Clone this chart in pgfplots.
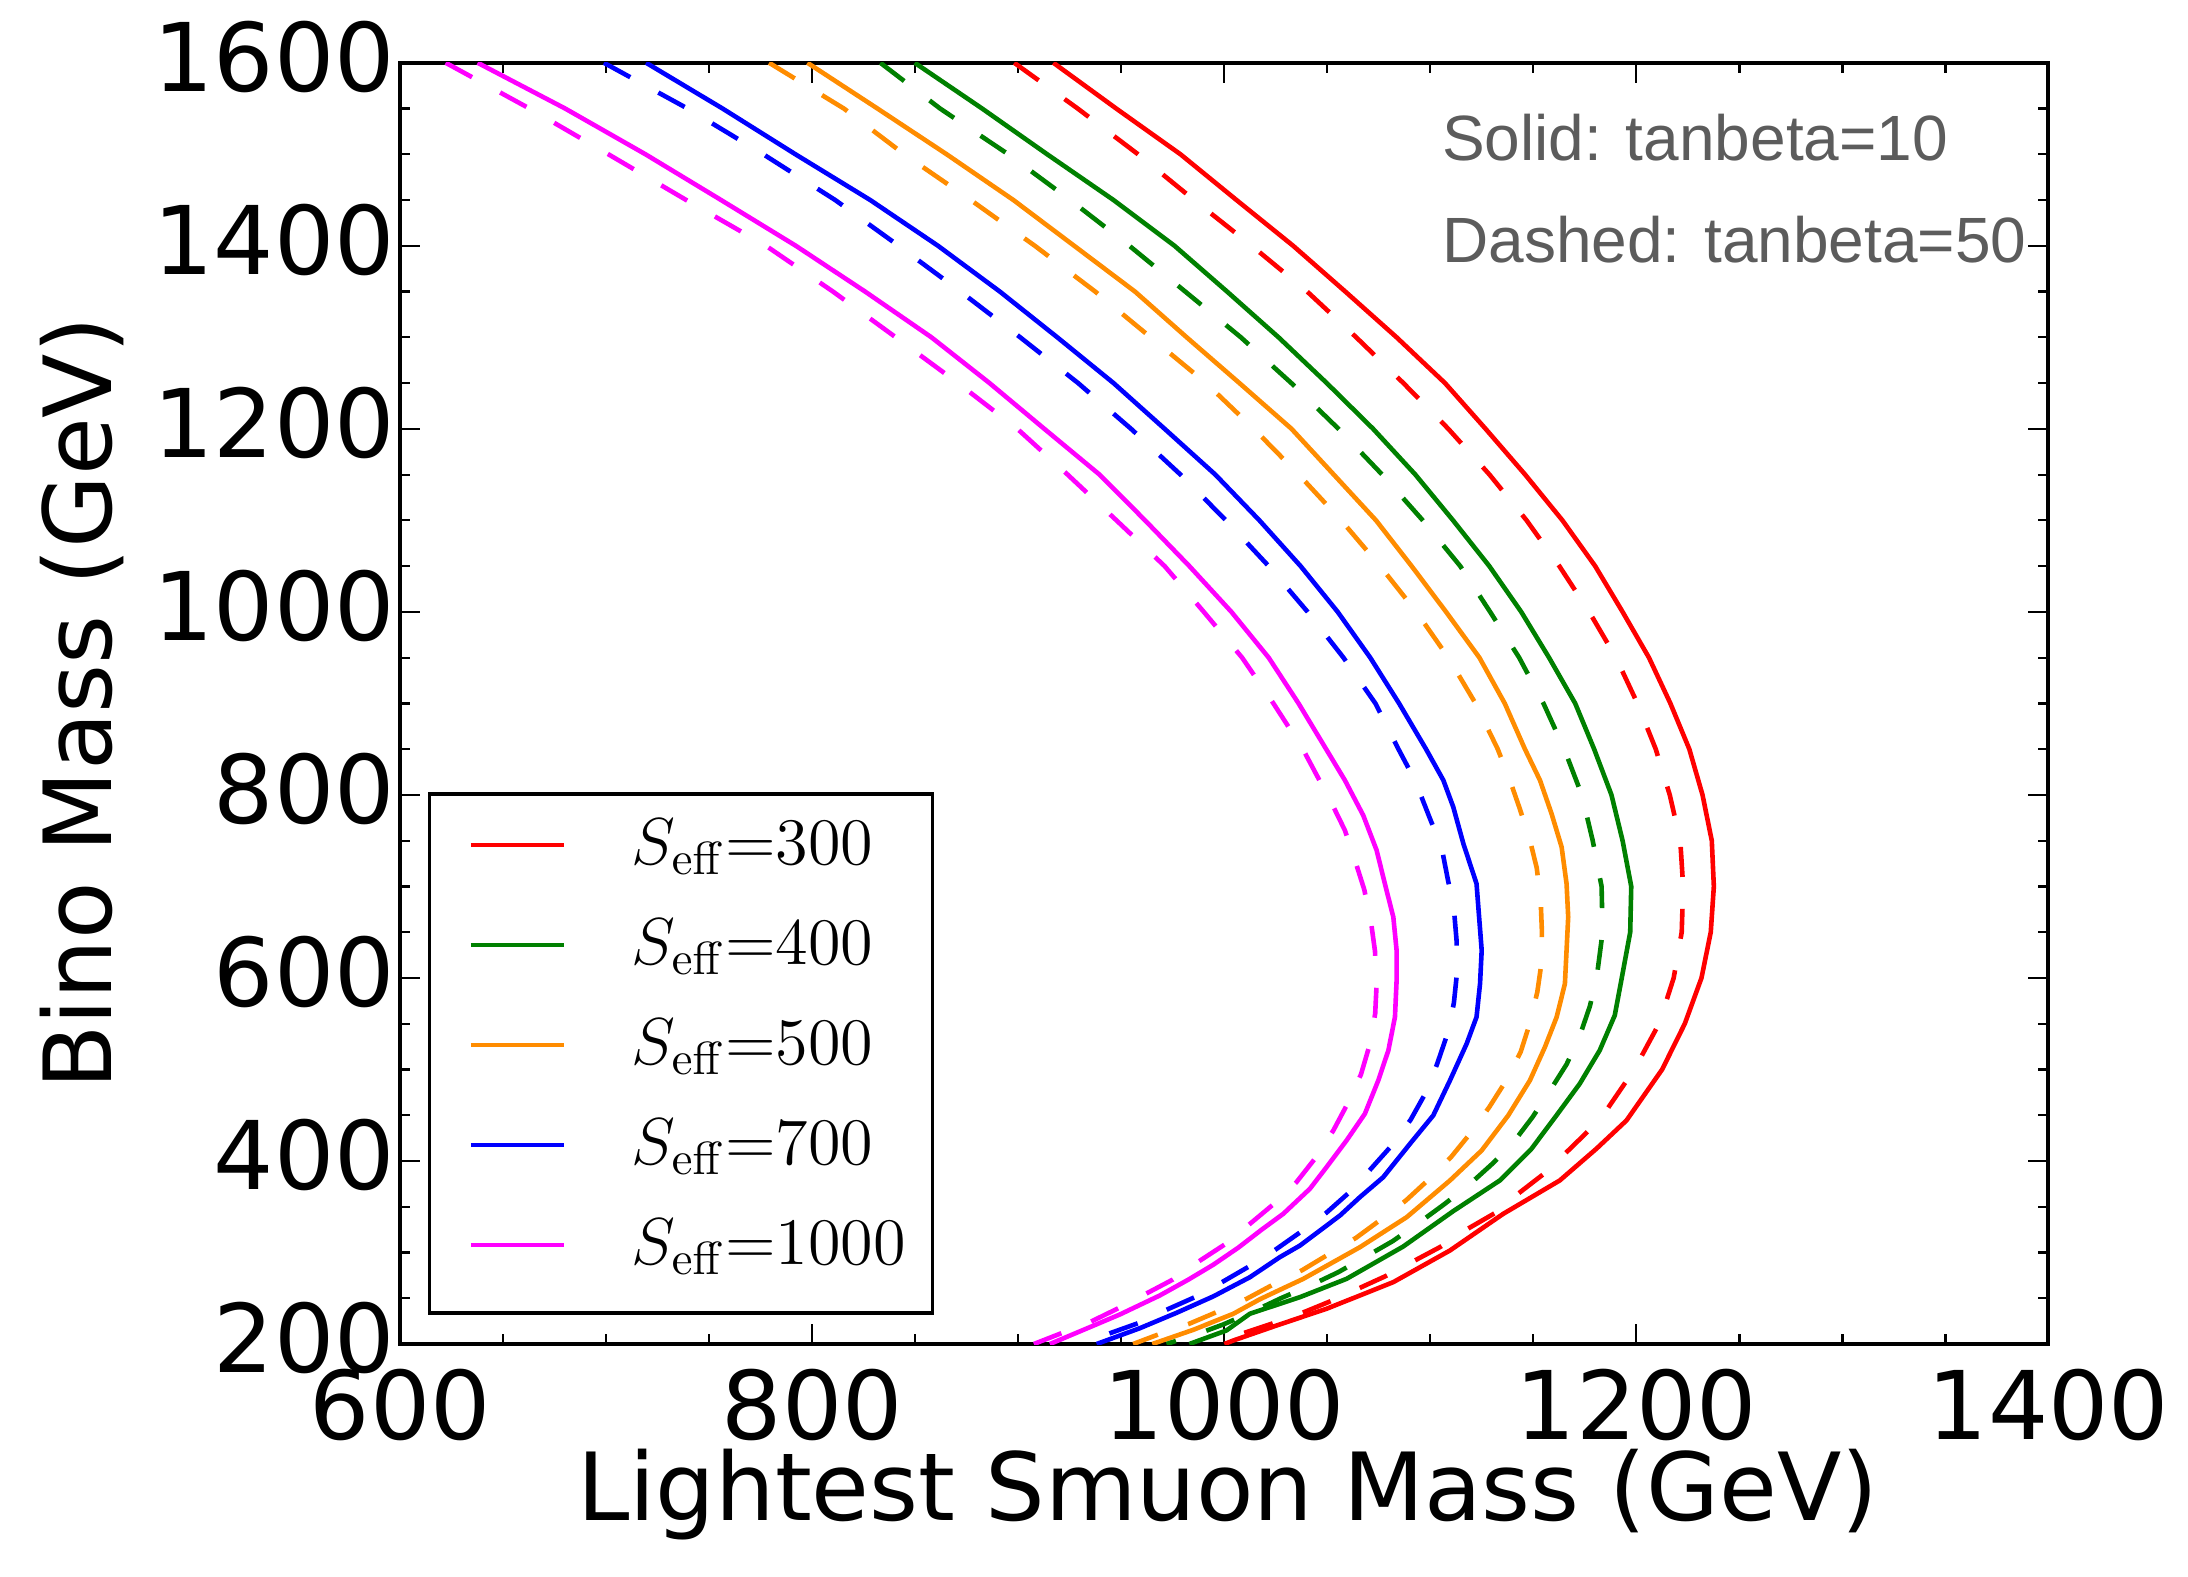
\RequirePackage{fix-cm}
\documentclass[border=0pt]{standalone}
\usepackage[no-math]{fontspec}
\setmainfont{DejaVu Sans}
\newfontfamily\annfont{Liberation Sans}
\usepackage{pgfplots}
\pgfplotsset{compat=1.18}
\definecolor{mplgreen}{RGB}{0,128,0}
\definecolor{mplorange}{RGB}{255,140,0}
\definecolor{mplred}{RGB}{255,0,0}
\definecolor{mplblue}{RGB}{0,0,255}
\definecolor{mplmag}{RGB}{255,0,255}
\definecolor{anngray}{RGB}{92,92,92}
\begin{document}
\begin{tikzpicture}
\begin{axis}[
  width=412pt, height=320.3pt, scale only axis,
  xmin=600, xmax=1400, ymin=200, ymax=1600,
  xtick={600,800,1000,1200,1400},
  ytick={200,400,600,800,1000,1200,1400,1600},
  minor x tick num=3, minor y tick num=3,
  tick align=inside,
  xtick pos=both, ytick pos=both,
  xticklabel pos=lower, yticklabel pos=left,
  major tick length=5pt, minor tick length=2.5pt,
  every tick/.append style={black, line width=0.55pt},
  axis line style={line width=1pt},
  /pgf/number format/assume math mode=true,
  /pgf/number format/set thousands separator={},
  scaled ticks=false,
  tick label style={font=\fontsize{23.7}{28}\selectfont},
  xticklabel style={inner xsep=0pt, inner ysep=0pt, yshift=-6pt},
  yticklabel style={inner xsep=1.2pt, inner ysep=0pt, yshift=1.5pt},
  label style={font=\fontsize{23.5}{28}\selectfont},
  xlabel={Lightest Smuon Mass (GeV)},
  ylabel={Bino Mass (GeV)},
  xlabel style={at={(axis description cs:0.502,-0.1175)}, anchor=center, inner sep=0pt},
  ylabel style={at={(axis description cs:-0.193,0.5)}, anchor=center, inner sep=0pt},
  legend style={at={(rel axis cs:0.0165,0.0228)}, anchor=south west,
    draw=black, line width=0.9pt, fill=white,
    inner xsep=6.6pt, inner ysep=5pt, row sep=5.25pt, column sep=16.5pt,
    cells={anchor=base west},
    nodes={inner sep=0pt, text height=12.55pt, text depth=7.2pt},
    font=\fontsize{16.6}{20}\selectfont},
  legend image code/.code={\path (-3.2pt,4.8pt); \draw[#1, line width=1.15pt] (0pt,4.8pt) -- (23.2pt,4.8pt);},
  every axis plot/.append style={line width=1.15pt, line join=round},
]
% ---- solid curves (tanbeta=10) ----
\addplot[mplred] coordinates {
(917,1600) (947.5,1550) (978.7,1500) (1005.9,1450) (1033.4,1400) (1058.7,1350) (1083.6,1300) (1107.1,1250) (1126.8,1200) (1146,1150) (1164.1,1100) (1180,1050) (1193.3,1000) (1206.1,950) (1216.5,900) (1225.7,850) (1232.1,800) (1236.6,750) (1237.6,700) (1236.1,650) (1231.6,600) (1223.5,550) (1212.5,500) (1195.2,444.3) (1180.6,413.4) (1162.8,378.7) (1135.4,342.3) (1109.5,302.2) (1082,267.6) (1049.6,238.5) (1025.3,220.2) (1004.3,203.8) (1000,200)};
\addlegendentry{$S_{\mathrm{eff}}{=}300$}
\addplot[mplgreen] coordinates {
(849.7,1600) (882.4,1550) (914,1500) (946.2,1450) (975.8,1400) (1001.3,1350) (1026.3,1300) (1049.7,1250) (1072.2,1200) (1092.7,1150) (1111,1100) (1128.6,1050) (1144.1,1000) (1157.6,950) (1170.3,900) (1179.5,850) (1187.9,800) (1193.3,750) (1197.5,700) (1197,650) (1192.9,600) (1189.5,559.1) (1182.2,520.9) (1172.5,484.4) (1161.2,449.8) (1149.1,413.4) (1133.7,378.7) (1111.1,345.2) (1086.8,306.5) (1059.3,271.2) (1036.7,251.2) (1012.4,233.1) (1001,214.8) (983,200)};
\addlegendentry{$S_{\mathrm{eff}}{=}400$}
\addplot[mplorange] coordinates {
(797.6,1600) (831.6,1550) (865.2,1500) (897.6,1450) (927.1,1400) (956.6,1350) (981.7,1300) (1007.3,1250) (1032.6,1200) (1053.1,1150) (1073.6,1100) (1090.9,1050) (1107.6,1000) (1123.8,950) (1136.1,900) (1145.9,850) (1153.2,816) (1158.8,779.6) (1163.7,743.1) (1166.1,703) (1166.9,666.6) (1165.3,593.7) (1161.3,557.3) (1155.6,524.5) (1148.3,488) (1137.8,449.8) (1124.9,411.5) (1109.5,378.7) (1088.5,338.6) (1065.8,305.8) (1038.3,271.2) (1017.3,249) (1004.3,233) (984.9,215.5) (965,200)};
\addlegendentry{$S_{\mathrm{eff}}{=}500$}
\addplot[mplblue] coordinates {
(719.3,1600) (756.4,1550) (791.8,1500) (828.1,1450) (861,1400) (891,1350) (918.9,1300) (946.2,1250) (971,1200) (995.6,1150) (1017,1100) (1037,1050) (1055,1000) (1070.8,950) (1084.8,900) (1097.9,850) (1106.3,816) (1111.1,786.8) (1116,746.8) (1122.4,703) (1124.9,630.1) (1124.1,593.7) (1122.4,557.3) (1117.6,528.1) (1109.5,488) (1101.4,449.8) (1090.1,418.8) (1077.1,382.3) (1065.8,360.5) (1056.1,340.4) (1036.7,307.6) (1026.9,294.9) (1012.4,273) (994.6,252) (976.8,234.1) (959,217.3) (938,200)};
\addlegendentry{$S_{\mathrm{eff}}{=}700$}
\addplot[mplmag] coordinates {
(637.5,1600) (680,1550) (719,1500) (755.7,1450) (792,1400) (825.6,1350) (857.8,1300) (886,1250) (912.6,1200) (939.4,1150) (961.5,1100) (983,1050) (1003.4,1000) (1021.5,950) (1036,900) (1049.4,850) (1058.5,816) (1067.4,777.7) (1073.9,739.5) (1077.9,703) (1082,666.6) (1083.6,630.1) (1083.6,597.3) (1082.8,557.3) (1079.6,520.8) (1074.7,488) (1068.2,451.6) (1059.3,422.4) (1049.6,393.3) (1041.5,369.6) (1028.6,342.3) (1018,324.8) (1006.7,305.2) (994.6,286.6) (982.4,270.2) (968.7,253.1) (949.3,232.3) (934.7,218.4) (915.3,200)};
\addlegendentry{$S_{\mathrm{eff}}{=}1000$}
% ---- dashed curves (tanbeta=50) ----
\addplot[mplred, dash pattern=on 7.5pt off 8pt, forget plot] coordinates {
(898,1600) (928.8,1550) (958.1,1500) (985.3,1450) (1013.3,1400) (1040.2,1350) (1064,1300) (1086.9,1250) (1108.7,1200) (1128.7,1150) (1146.7,1100) (1162.6,1050) (1177.1,1000) (1190.1,950) (1200.5,900) (1209.4,850) (1216.2,800) (1221.3,750) (1222.7,700) (1222,650) (1218.1,600) (1211,550) (1199,500) (1186.3,458.2) (1176.6,432.7) (1165.3,407.9) (1154.7,385.3) (1142.1,363.4) (1131.3,343) (1117.3,324.8) (1104.6,305.8) (1090.9,289.4) (1077.9,273.8) (1063.8,259.3) (1050.4,245.7) (1035.8,232.2) (1022.1,221.5) (1007.5,210.6) (996,200)};
\addplot[mplgreen, dash pattern=on 7.5pt off 8pt, forget plot] coordinates {
(833,1600) (862,1550) (895.1,1500) (925.2,1450) (953.9,1400) (981,1350) (1008,1300) (1032.5,1250) (1055.4,1200) (1076.6,1150) (1096.3,1100) (1114.5,1050) (1129,1000) (1143.1,950) (1154.9,900) (1165,850) (1173.5,800) (1178.8,750) (1183.1,700) (1183.6,650) (1180.7,600) (1177.4,569) (1172.2,534.7) (1166.1,505.6) (1157.6,475.3) (1149.6,448) (1140,419.5) (1129.7,396.2) (1118.4,373.2) (1106.6,352.5) (1093.3,330.6) (1081.7,312.4) (1068.2,294.9) (1055.3,278.5) (1040.7,262.8) (1027.8,250.4) (1013.2,234.8) (999.4,221.3) (984.9,209.3) (971.9,200)};
\addplot[mplorange, dash pattern=on 7.5pt off 8pt, forget plot] coordinates {
(779,1600) (815.3,1550) (844.6,1500) (876.9,1450) (908,1400) (937.3,1350) (964.2,1300) (991.1,1250) (1014.3,1200) (1036.1,1150) (1056.7,1100) (1075.6,1050) (1093.2,1000) (1108.7,950) (1121.9,900) (1132.7,850) (1138.6,816) (1143.1,786.8) (1148,753.3) (1151.6,720.5) (1153.5,686.6) (1154.1,652.7) (1154,617.4) (1151.9,584.6) (1148.3,550.7) (1143.8,519) (1136.6,487.3) (1128.6,458.9) (1119.5,430.5) (1110.3,405) (1099,379.4) (1088.1,356.8) (1075.8,335.7) (1063.9,316) (1050.4,297.8) (1038,281) (1023.7,265) (1010.8,249.4) (996.2,234.8) (982.9,222.1) (967.9,210.4) (955.7,200)};
\addplot[mplblue, dash pattern=on 7.5pt off 8pt, forget plot] coordinates {
(698.8,1600) (739.4,1550) (776.2,1500) (811.1,1450) (841.9,1400) (871.9,1350) (900.9,1300) (929,1250) (954.7,1200) (978.7,1150) (1000.8,1100) (1021.5,1050) (1040.4,1000) (1057.8,950) (1073.3,900) (1084.5,850) (1092.5,816) (1099.8,774.1) (1105.4,743.1) (1108.4,708.5) (1111.4,675.7) (1112.7,641.1) (1113,607.5) (1111.4,572.6) (1108.4,539.8) (1103.3,506.2) (1098.2,476.4) (1090.4,445) (1081.7,418.1) (1070.7,390.4) (1061.3,367) (1049.3,343) (1038,324) (1024.5,302.6) (1012.4,285.3) (999.4,268.3) (985.7,251.2) (971.9,237.4) (958.2,222.8) (943.6,211.1) (931,200)};
\addplot[mplmag, dash pattern=on 7.5pt off 8pt, forget plot] coordinates {
(622,1600) (662.7,1550) (701,1500) (738.8,1450) (777.5,1400) (810,1350) (840.5,1300) (870.7,1250) (899.5,1200) (923.9,1150) (947.6,1100) (971,1050) (990,1000) (1008.6,950) (1023.8,900) (1038.1,850) (1052,791.2) (1058.5,761.3) (1063.4,728.5) (1067.9,696.5) (1071.1,662.2) (1073.1,629.4) (1073.9,593.7) (1073.2,560.9) (1070.3,525.2) (1066.3,494.6) (1059.6,461.8) (1052.9,433.4) (1043.9,402.4) (1035,376.9) (1023.7,352.5) (1012.4,331.3) (1000.2,308.8) (987.8,290.6) (974.8,270.2) (961.9,254.9) (948,238.5) (934.7,223.9) (920.1,211.1) (907.5,200)};
% ---- annotations ----
\node[anchor=base west, inner sep=0pt, text=anngray, font=\annfont\fontsize{16}{19}\selectfont] at (rel axis cs:0.6317,0.9238) {Solid: tanbeta=10};
\node[anchor=base west, inner sep=0pt, text=anngray, font=\annfont\fontsize{16}{19}\selectfont] at (rel axis cs:0.6317,0.8445) {Dashed: tanbeta=50};
\end{axis}
\path ([xshift=-100.1pt,yshift=-58.05pt]current axis.south west) rectangle ([xshift=34.9pt,yshift=15.7pt]current axis.north east);
\end{tikzpicture}
\end{document}
